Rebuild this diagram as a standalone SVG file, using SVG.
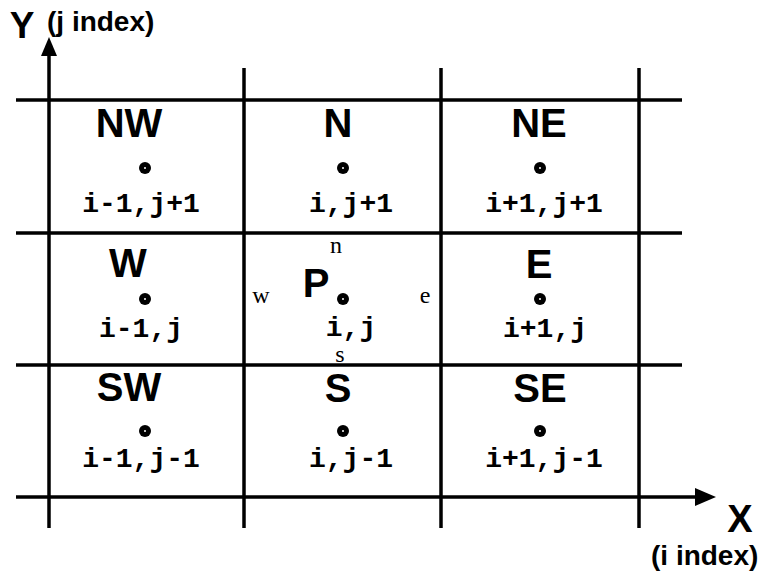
<svg xmlns="http://www.w3.org/2000/svg" width="760" height="573" viewBox="0 0 760 573">
<style>
.ln{stroke:#000;stroke-width:3.5;fill:none}
.lbl{font-family:"Liberation Sans",Arial,sans-serif;font-weight:bold;font-size:40px;text-anchor:middle;fill:#000}
.idx{font-family:"Liberation Mono","Courier New",monospace;font-weight:bold;font-size:28px;text-anchor:middle;fill:#000}
.face{font-family:"Liberation Serif","Times New Roman",serif;font-size:24px;text-anchor:middle;fill:#000}
.ax{font-family:"Liberation Sans",Arial,sans-serif;font-weight:bold;fill:#000}
</style>
<defs>
<g id="dot"><circle r="6" fill="#000"/><circle r="1" fill="#fff"/></g>
</defs>
<rect width="760" height="573" fill="#fff"/>
<g id="connectors">
<line class="ln" x1="16" y1="100" x2="682" y2="100"/>
<line class="ln" x1="16" y1="233" x2="682" y2="233"/>
<line class="ln" x1="16" y1="365" x2="682" y2="365"/>
<line class="ln" x1="16" y1="497" x2="698" y2="497"/>
<polygon points="716,497 695,488 695,506" fill="#000"/>
<line class="ln" x1="49" y1="528" x2="49" y2="52"/>
<polygon points="49,37 41,56 57,56" fill="#000"/>
<line class="ln" x1="244" y1="68" x2="244" y2="528"/>
<line class="ln" x1="441" y1="68" x2="441" y2="528"/>
<line class="ln" x1="639" y1="68" x2="639" y2="528"/>
</g>
<g id="axis-y">
<text class="ax" x="22" y="38" font-size="37" text-anchor="middle">Y</text>
<text class="ax" x="47" y="31" font-size="28">(j index)</text>
</g>
<g id="axis-x">
<text class="ax" x="740" y="532" font-size="38" text-anchor="middle">X</text>
<text class="ax" x="651" y="565" font-size="28">(i index)</text>
</g>
<g id="NW"><text class="lbl" x="129" y="137">NW</text><use href="#dot" x="145" y="168"/><text class="idx" x="141" y="212">i-1,j+1</text></g>
<g id="N"><text class="lbl" x="338" y="137">N</text><use href="#dot" x="343" y="168"/><text class="idx" x="351" y="212">i,j+1</text></g>
<g id="NE"><text class="lbl" x="539" y="137">NE</text><use href="#dot" x="540" y="168"/><text class="idx" x="544" y="212">i+1,j+1</text></g>
<g id="W"><text class="lbl" x="128" y="277">W</text><use href="#dot" x="145" y="299"/><text class="idx" x="141" y="337">i-1,j</text></g>
<g id="P"><text class="lbl" x="316" y="297">P</text><use href="#dot" x="343" y="299"/><text class="idx" x="351" y="336">i,j</text>
<text class="face" x="336" y="253">n</text><text class="face" x="261" y="303">w</text><text class="face" x="425" y="303">e</text><text class="face" x="340" y="362">s</text></g>
<g id="E"><text class="lbl" x="539" y="278">E</text><use href="#dot" x="540" y="299"/><text class="idx" x="545" y="337">i+1,j</text></g>
<g id="SW"><text class="lbl" x="129" y="401">SW</text><use href="#dot" x="145" y="431"/><text class="idx" x="141" y="467">i-1,j-1</text></g>
<g id="S"><text class="lbl" x="338" y="402">S</text><use href="#dot" x="343" y="431"/><text class="idx" x="351" y="467">i,j-1</text></g>
<g id="SE"><text class="lbl" x="540" y="402">SE</text><use href="#dot" x="540" y="431"/><text class="idx" x="544" y="467">i+1,j-1</text></g>
</svg>
